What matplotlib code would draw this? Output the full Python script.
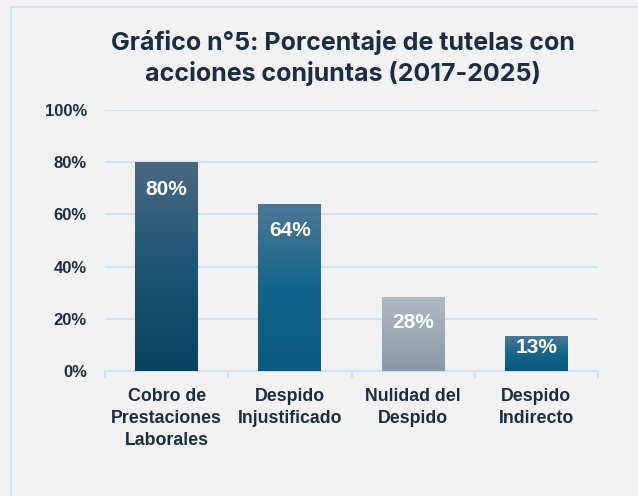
import numpy as np
import matplotlib
matplotlib.use("Agg")
import matplotlib.pyplot as plt
from matplotlib.patches import Rectangle
from matplotlib.colors import LinearSegmentedColormap

categories = ["Cobro de\nPrestaciones\nLaborales", "Despido\nInjustificado",
              "Nulidad del\nDespido", "Despido\nIndirecto"]
values = [80, 64, 28.4, 13.4]
bar_labels = ["80%", "64%", "28%", "13%"]
y_ticks = [0, 20, 40, 60, 80, 100]
y_tick_labels = ["0%", "20%", "40%", "60%", "80%", "100%"]
title = "Gráfico n°5: Porcentaje de tutelas con\nacciones conjuntas (2017-2025)"

# top -> bottom gradient colours for each bar
gradients = [
    ["#4a6882", "#1d5674", "#07425f"],
    ["#4d7895", "#14658c", "#0c5a7f"],
    ["#afbac5", "#9ca9b5", "#8b99a7"],
    ["#497896", "#15668c", "#0a587c"],
]

text_col = "#1b2d45"
grid_col = "#cfe1f3"
bg = "#f2f2f2"

fig = plt.figure(figsize=(6.38, 4.96), dpi=100, facecolor=bg)
ax = fig.add_axes([105/638, 1 - 371/496, (598 - 105)/638, (371 - 110)/496])
ax.set_facecolor(bg)

# outer frame
fig.patches.append(Rectangle((11/638, -0.1), 1.2, 1 - 7/496 + 0.1, transform=fig.transFigure,
                             fill=False, edgecolor=grid_col, lw=1.6))

x = np.arange(len(categories))
bars = ax.bar(x, values, width=0.51, color="none", zorder=3)
for b, cols in zip(bars, gradients):
    cmap = LinearSegmentedColormap.from_list("g", cols[::-1])
    grad = np.linspace(0, 1, 256).reshape(-1, 1)
    im = ax.imshow(grad, cmap=cmap, origin="lower", aspect="auto", zorder=3,
                   extent=[b.get_x(), b.get_x() + b.get_width(), 0, b.get_height()])
    im.set_clip_path(b)

for b, lab in zip(bars, bar_labels):
    h = b.get_height()
    ax.text(b.get_x() + b.get_width()/2, h - min(10.3, h * 0.34), lab, ha="center", va="center",
            color="white", fontsize=15, fontweight="bold", family="Liberation Sans", zorder=4)

ax.set_xlim(-0.5, len(categories) - 0.5)
ax.set_ylim(0, 100)
ax.set_yticks(y_ticks)
ax.set_yticklabels(y_tick_labels)
ax.set_xticks(x)
ax.set_xticklabels(categories, linespacing=1.4)
ax.set_xticks(np.arange(len(categories) + 1) - 0.5, minor=True)
ax.tick_params(axis="x", which="major", length=0, pad=12)
ax.tick_params(axis="x", which="minor", length=5, width=1.5, color=grid_col)
ax.tick_params(axis="y", length=0, pad=13)
for lab in ax.get_xticklabels() + ax.get_yticklabels():
    lab.set_fontweight("bold")
    lab.set_color(text_col)
    lab.set_family("Liberation Sans")
for lab in ax.get_xticklabels():
    lab.set_fontsize(12.8)
for lab in ax.get_yticklabels():
    lab.set_fontsize(12)

ax.grid(axis="y", color=grid_col, lw=1.5, zorder=0)
for s in ["top", "right", "left"]:
    ax.spines[s].set_visible(False)
ax.spines["bottom"].set_color(grid_col)
ax.spines["bottom"].set_linewidth(1.5)

fig.text(343/638, 1 - 30/496, title, ha="center", va="top", fontsize=18,
         fontweight="bold", color=text_col, family="Inter", linespacing=1.3)

fig.savefig("out.png", dpi=100, facecolor=bg)
